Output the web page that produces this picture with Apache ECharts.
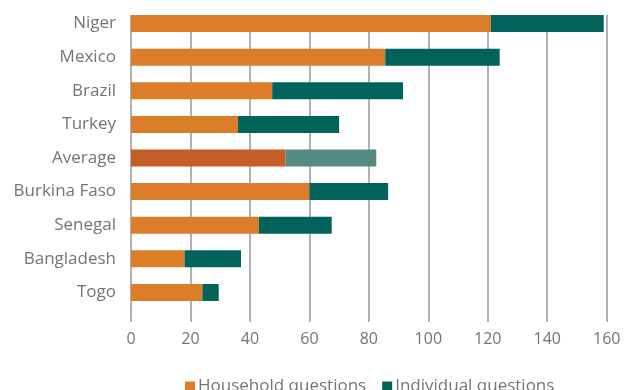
<!DOCTYPE html>
<html>
<head>
<meta charset="utf-8">
<script src="https://cdn.jsdelivr.net/npm/echarts@6/dist/echarts.min.js"></script>
<style>html,body{margin:0;padding:0;background:#fff}#c{width:624px;height:390px}</style>
</head>
<body>
<div id="c"></div>
<script>
const categories = ['Niger','Mexico','Brazil','Turkey','Average','Burkina Faso','Senegal','Bangladesh','Togo'];
const household = [121, 85.5, 47.5, 36, 52, 60, 43, 18, 24];
const individual = [38, 38.5, 44, 34, 30.5, 26.5, 24.5, 19, 5.5];
const xTicks = [0, 20, 40, 60, 80, 100, 120, 140, 160];

const ORANGE = '#DB7D29', TEAL = '#02635A', AVG_OR = '#C45E27', AVG_TE = '#548A81';
const FONT = '"Open Sans", sans-serif';

const chart = echarts.init(document.getElementById('c'), null, {renderer: 'canvas'});
function colored(arr, normal, avg) {
  return arr.map((v, i) => categories[i] === 'Average' ? {value: v, itemStyle: {color: avg}} : v);
}
chart.setOption({
  animation: false,
  backgroundColor: '#fff',
  grid: [
    {left: 131, right: 17.3, top: 6.7, height: 302.6, containLabel: false},
    {left: 131, right: 17.3, top: 15, height: 307, containLabel: false}
  ],
  legend: {
    left: 180, top: 373,
    itemWidth: 10, itemHeight: 10, itemGap: 16,
    icon: 'rect',
    textStyle: {color: '#747474', fontSize: 17, fontFamily: FONT, padding: [0, 0, 0, -2]},
    data: [{name: 'Household questions', itemStyle: {color: ORANGE}}, {name: 'Individual questions', itemStyle: {color: TEAL}}]
  },
  xAxis: [
    {gridIndex: 0, type: 'value', min: 0, max: 160, interval: 20, show: false, splitLine: {show: false}},
    {gridIndex: 1, type: 'value', min: xTicks[0], max: xTicks[xTicks.length - 1], interval: 20,
     axisLine: {show: false}, axisTick: {show: false},
     splitLine: {show: true, lineStyle: {color: '#999', width: 1.5}},
     axisLabel: {color: '#747474', fontSize: 16, fontFamily: FONT, margin: 9}}
  ],
  yAxis: [
    {gridIndex: 0, type: 'category', data: categories, inverse: true,
     axisLine: {show: false}, axisTick: {show: false}, splitLine: {show: false},
     axisLabel: {color: '#747474', fontSize: 17, fontFamily: FONT, margin: 15}},
    {gridIndex: 1, type: 'value', min: 0, max: 1, show: false, splitLine: {show: false}}
  ],
  series: [
    {name: 'Household questions', type: 'bar', stack: 'q', xAxisIndex: 0, yAxisIndex: 0,
     barWidth: 17, itemStyle: {color: ORANGE}, data: colored(household, ORANGE, AVG_OR)},
    {name: 'Individual questions', type: 'bar', stack: 'q', xAxisIndex: 0, yAxisIndex: 0,
     barWidth: 17, itemStyle: {color: TEAL}, data: colored(individual, TEAL, AVG_TE)}
  ]
});
</script>
</body>
</html>
